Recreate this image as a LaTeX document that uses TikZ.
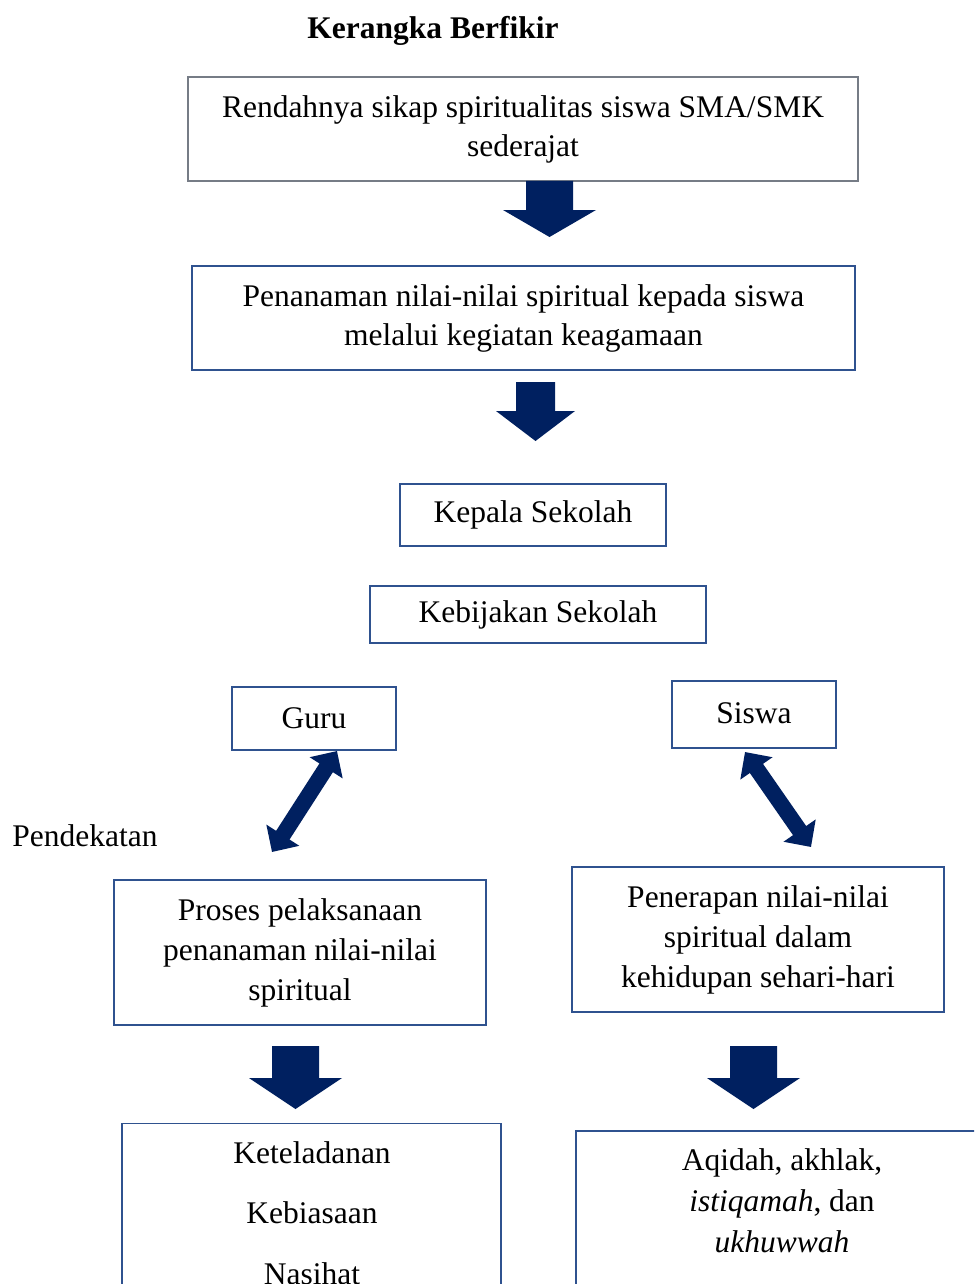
\documentclass[tikz,border=0pt]{standalone}
\usepackage{fontspec}
\setmainfont{Liberation Serif}
\usetikzlibrary{arrows.meta}
\definecolor{boxblue}{RGB}{47,82,143}
\definecolor{boxgray}{RGB}{118,124,134}
\definecolor{arrowc}{RGB}{0,32,96}
\tikzset{
  box/.style={draw=boxblue, line width=1.2pt, inner sep=0pt, align=center, font=\fontsize{31.5pt}{40pt}\selectfont},
  txt/.style={inner sep=0pt, align=center, font=\fontsize{31.5pt}{40pt}\selectfont},
  dblarrow/.style={draw=arrowc, line width=16pt, {Triangle[length=20pt,width=38pt]}-{Triangle[length=20pt,width=38pt]}}
}
\newcommand\bdarrow[6]{\fill[arrowc] ({#1-#5},#2) -- ({#1+#5},#2) -- ({#1+#5},#3) -- ({#1+#6},#3) -- (#1,#4) -- ({#1-#6},#3) -- ({#1-#5},#3) -- cycle;}
\begin{document}
\begin{tikzpicture}[x=1pt,y=-1pt]
\useasboundingbox (0,0) rectangle (974,1284);
\clip (0,0) rectangle (974,1284);
\fill[white] (0,0) rectangle (974,1284);

\node[txt, font=\fontsize{31.5pt}{40pt}\selectfont\bfseries] (title) at (433,31) {Kerangka Berfikir};

\node[box, draw=boxgray, minimum width=670pt, minimum height=104pt] (r1) at (523,129)
  {Rendahnya sikap spiritualitas siswa SMA/SMK\\[-1pt] sederajat};
\node[box, minimum width=663pt, minimum height=104pt] (r2) at (523.5,318)
  {Penanaman nilai-nilai spiritual kepada siswa\\[-1pt] melalui kegiatan keagamaan};

\node[box, minimum width=266pt, minimum height=62pt] (kepala) at (533,515) {\raisebox{-3pt}{Kepala Sekolah}};
\node[box, minimum width=336pt, minimum height=57pt] (kebijakan) at (538,614.5) {\raisebox{-3pt}{Kebijakan Sekolah}};

\node[box, minimum width=164pt, minimum height=63pt] (guru) at (314,718.5) {Guru};
\node[box, minimum width=164pt, minimum height=67pt] (siswa) at (754,714.5) {\raisebox{2pt}{Siswa}};

\node[txt] (pend) at (85,836) {Pendekatan};

\node[box, minimum width=372pt, minimum height=145pt] (proses) at (300,952.5)
  {Proses pelaksanaan\\ penanaman nilai-nilai\\ spiritual};
\node[box, minimum width=372pt, minimum height=145pt] (penerapan) at (758,939.5)
  {Penerapan nilai-nilai\\ spiritual dalam\\ kehidupan sehari-hari};

\node[box, minimum width=379pt, minimum height=240pt, anchor=north] (ket) at (311.5,1123) {};
\node[txt, font=\fontsize{31.5pt}{60.5pt}\selectfont] (kett) at (312,1213) {Keteladanan\\ Kebiasaan\\ Nasihat};

\node[box, line width=1.6pt, minimum width=420pt, minimum height=240pt, anchor=north west] (aqi) at (575,1130) {};
\node[txt, font=\fontsize{31.5pt}{41pt}\selectfont] (aqit) at (782,1201) {Aqidah, akhlak,\\ \textit{istiqamah}, dan\\ \textit{ukhuwwah}};

% block arrows
\bdarrow{549.5}{181}{210}{237}{23.5}{46.5}
\bdarrow{535.5}{382}{411}{441}{19.5}{39.5}
\bdarrow{295.5}{1046}{1078}{1109}{23.5}{46.5}
\bdarrow{753.5}{1046}{1078}{1109}{23.5}{46.5}

% double arrows
\coordinate (gA) at (337,751);
\coordinate (gB) at (272,852);
\coordinate (sA) at (745,752);
\coordinate (sB) at (811,847);
\draw[dblarrow] (gA) -- (gB);
\draw[dblarrow] (sA) -- (sB);
\end{tikzpicture}
\end{document}
